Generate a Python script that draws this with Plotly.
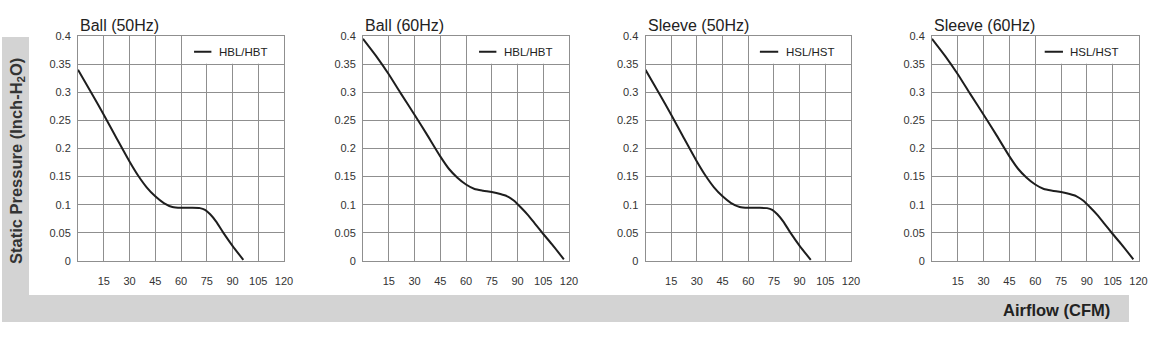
import plotly.graph_objects as go

# ---- data ----
titles = ["Ball (50Hz)", "Ball (60Hz)", "Sleeve (50Hz)", "Sleeve (60Hz)"]
series_names = ["HBL/HBT", "HBL/HBT", "HSL/HST", "HSL/HST"]

ball50_x = [0, 8, 15, 22, 30, 35, 40, 45, 50, 55, 60, 66, 71, 74, 77, 80.5, 84.7, 90, 96.3]
ball50_y = [0.34, 0.298, 0.26, 0.221, 0.177, 0.152, 0.131, 0.115, 0.103, 0.096, 0.0945, 0.0945,
            0.094, 0.091, 0.083, 0.07, 0.05, 0.027, 0.002]

ball60_x = [0, 8, 15, 22, 30, 37, 45, 50, 55, 60, 65, 70, 75, 80, 84, 88, 92, 96, 100, 105, 110, 117]
ball60_y = [0.395, 0.363, 0.332, 0.298, 0.26, 0.226, 0.186, 0.164, 0.148, 0.136, 0.128, 0.125,
            0.1225, 0.119, 0.115, 0.107, 0.095, 0.082, 0.067, 0.048, 0.03, 0.003]

sleeve50_x = [0, 8, 15, 22, 30, 35, 40, 45, 50, 55, 60, 66, 71, 74, 77, 80.5, 84.7, 90, 96.5]
sleeve50_y = [0.34, 0.298, 0.26, 0.221, 0.177, 0.152, 0.131, 0.115, 0.103, 0.096, 0.0945, 0.0945,
              0.094, 0.091, 0.083, 0.07, 0.05, 0.027, 0.002]

sleeve60_x = [0, 8, 15, 22, 30, 37, 45, 50, 55, 60, 65, 70, 75, 80, 84, 88, 92, 96, 100, 105, 110, 117]
sleeve60_y = [0.395, 0.363, 0.332, 0.298, 0.26, 0.226, 0.186, 0.164, 0.148, 0.136, 0.128, 0.125,
              0.1225, 0.119, 0.115, 0.107, 0.095, 0.082, 0.067, 0.048, 0.03, 0.003]

x_ticks = [15, 30, 45, 60, 75, 90, 105, 120]
x_ticklabels = ["15", "30", "45", "60", "75", "90", "105", "120"]
y_ticks = [0, 0.05, 0.1, 0.15, 0.2, 0.25, 0.3, 0.35, 0.4]
y_ticklabels = ["0", "0.05", "0.1", "0.15", "0.2", "0.25", "0.3", "0.35", "0.4"]

xs = [ball50_x, ball60_x, sleeve50_x, sleeve60_x]
ys = [ball50_y, ball60_y, sleeve50_y, sleeve60_y]

# ---- layout geometry ----
W, H = 1149, 344
panel_px = [(78, 284), (363, 569), (645.5, 851), (932, 1138.5)]
y_dom = [1 - 261 / H, 1 - 36 / H]
legend_pos = [(67.6, 77.7, 81), (67.6, 77.7, 81), (66.8, 77.5, 80.7), (65.5, 76.1, 79)]

FONT = "Liberation Sans, Arial, sans-serif"
GRID = "#8f8f8f"
BAR = "#d3d3d3"

fig = go.Figure()
layout = dict(
    width=W, height=H, margin=dict(l=0, r=0, t=0, b=0, autoexpand=False),
    paper_bgcolor="white", plot_bgcolor="white", showlegend=False,
    font=dict(family=FONT, color="#333333", size=11),
)
shapes = [
    dict(type="rect", xref="paper", yref="paper", x0=2 / W, x1=29 / W, y0=1 - 322 / H, y1=1 - 37 / H,
         fillcolor=BAR, line_width=0, layer="below"),
    dict(type="rect", xref="paper", yref="paper", x0=2 / W, x1=1129 / W, y0=1 - 322 / H, y1=1 - 295 / H,
         fillcolor=BAR, line_width=0, layer="below"),
]
annotations = []

for i in range(4):
    n = "" if i == 0 else str(i + 1)
    xa, ya = "x" + n, "y" + n
    fig.add_trace(go.Scatter(
        x=xs[i], y=ys[i], mode="lines", name=series_names[i],
        line=dict(color="#1e1e1e", width=2, shape="spline", smoothing=0.5),
        xaxis=xa, yaxis=ya, hoverinfo="x+y",
    ))
    l, r = panel_px[i]
    layout["xaxis" + n] = dict(
        domain=[l / W, r / W], range=[0, 120], anchor=ya, automargin=False,
        tickvals=x_ticks, ticktext=x_ticklabels, showgrid=True, gridcolor=GRID, gridwidth=1,
        zeroline=False, showline=True, linecolor=GRID, linewidth=1, mirror=True,
        ticks="", ticklabelstandoff=10, tickfont=dict(size=11, color="#333333"), fixedrange=True,
    )
    layout["yaxis" + n] = dict(
        domain=y_dom, range=[0, 0.4], anchor=xa, automargin=False,
        tickvals=y_ticks, ticktext=y_ticklabels, showgrid=True, gridcolor=GRID, gridwidth=1,
        zeroline=False, showline=True, linecolor=GRID, linewidth=1, mirror=True,
        ticks="", ticklabelstandoff=4, tickfont=dict(size=11, color="#333333"), fixedrange=True,
    )
    # white area behind legend (covers grid in top-right cell)
    shapes.append(dict(type="rect", xref=xa, yref=ya, x0=60.6, x1=120, y0=0.3508, y1=0.4,
                       fillcolor="white", line_width=0, layer="between"))
    lx0, lx1, tx = legend_pos[i]
    shapes.append(dict(type="line", xref=xa, yref=ya, x0=lx0, x1=lx1, y0=0.372, y1=0.372,
                       line=dict(color="#1e1e1e", width=2), layer="above"))
    annotations.append(dict(xref=xa, yref=ya, x=tx, y=0.372, text=series_names[i], showarrow=False,
                            xanchor="left", yanchor="middle", font=dict(size=11.5, color="#222222")))
    annotations.append(dict(xref="paper", yref="paper", x=l / W, y=1 - 25 / H, text=titles[i],
                            showarrow=False, xanchor="left", yanchor="middle",
                            font=dict(size=16, color="#222222")))

annotations.append(dict(xref="paper", yref="paper", x=17 / W, y=1 - 161 / H,
                        text="<b>Static Pressure (Inch-H<sub>2</sub>O)</b>", textangle=-90,
                        showarrow=False, xanchor="center", yanchor="middle",
                        font=dict(size=16.5, color="#333333")))
annotations.append(dict(xref="paper", yref="paper", x=1056 / W, y=1 - 310 / H,
                        text="<b>Airflow (CFM)</b>", showarrow=False, xanchor="center", yanchor="middle",
                        font=dict(size=16.5, color="#222222")))

layout["shapes"] = shapes
layout["annotations"] = annotations
fig.update_layout(**layout)
fig.write_html("out.html")
